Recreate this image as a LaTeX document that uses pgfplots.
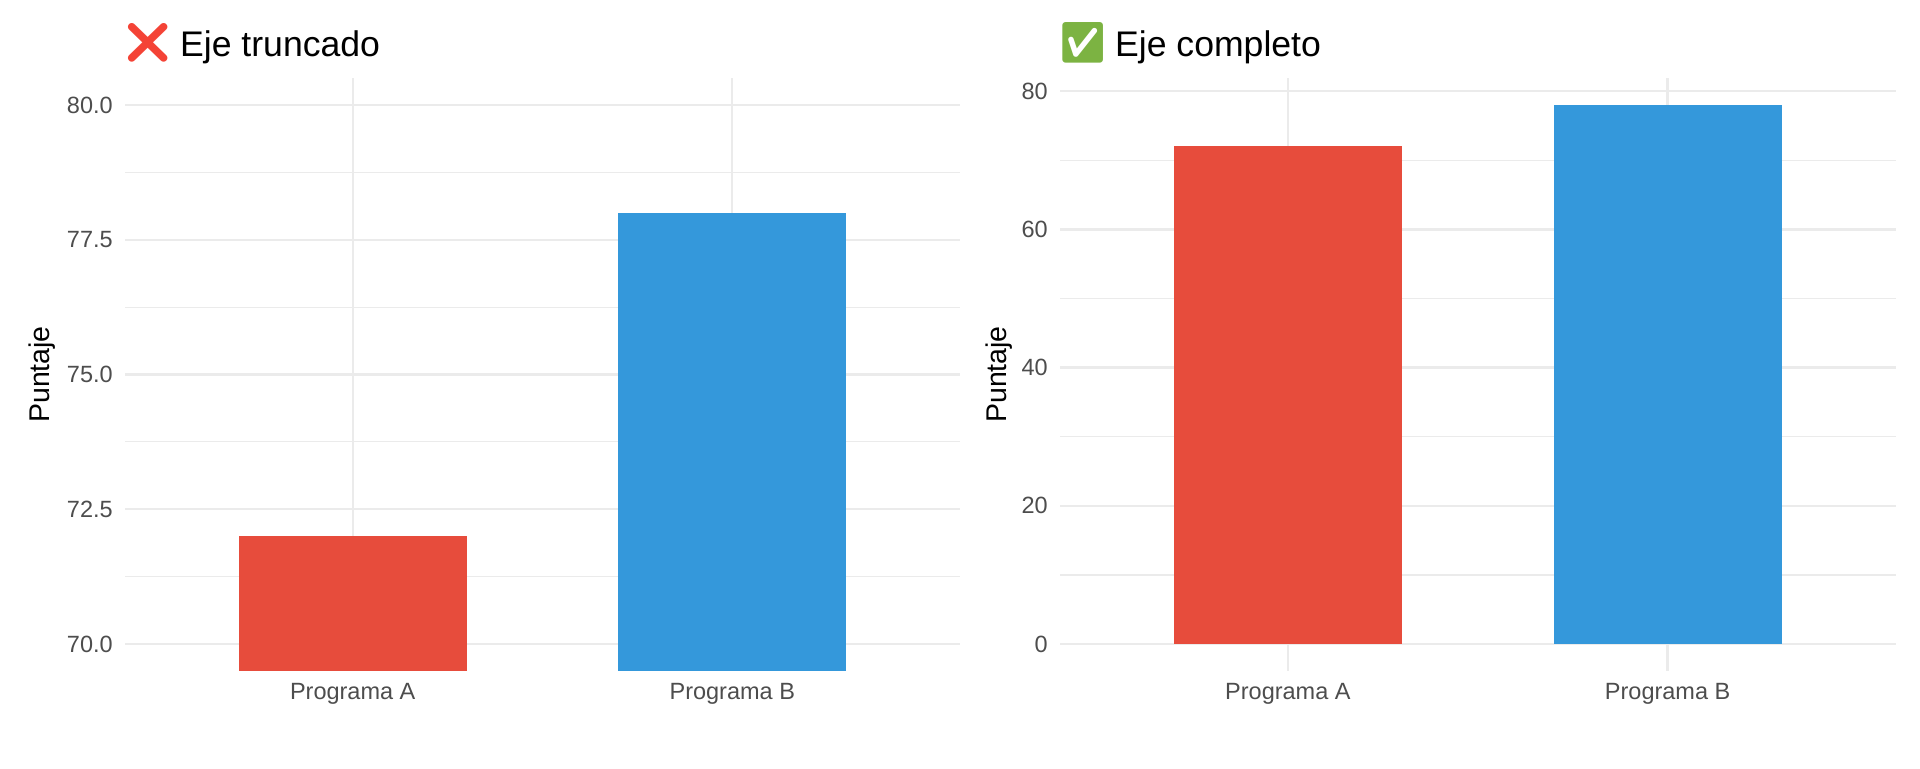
\documentclass[border=0pt]{standalone}
\usepackage{fontspec}
\setmainfont{Liberation Sans}
\newfontfamily\emojifont{Noto Emoji}
\usepackage{pgfplots}
\pgfplotsset{compat=1.18}
\definecolor{barred}{HTML}{E74C3C}
\definecolor{barblue}{HTML}{3498DB}
\definecolor{gridc}{HTML}{EBEBEB}
\definecolor{tickc}{HTML}{4D4D4D}
\definecolor{xred}{HTML}{F44336}
\definecolor{okgreen}{HTML}{7CB342}
\newcommand{\emo}[2]{{\emojifont\fontsize{20}{20}\selectfont\textcolor{#1}{#2}}}
\pgfplotsset{
  panel/.style={
    scale only axis, width=417.5pt, height=296.5pt,
    anchor=south west,
    axis line style={draw=none},
    major tick length=0pt, minor tick length=0pt,
    xmin=0.4, xmax=2.6,
    xtick={1,2}, xticklabels={Programa A, Programa B},
    ymajorgrids, yminorgrids, xmajorgrids,
    major grid style={draw=gridc, line width=1.2pt},
    minor grid style={draw=gridc, line width=0.6pt},
    ticklabel style={font=\fontsize{11.75}{14}\selectfont, text=tickc},
    yticklabel style={xshift=-2.6pt},
    xticklabel style={yshift=-2.5pt},
    /pgf/number format/assume math mode=true,
    ylabel={Puntaje},
    ylabel style={font=\fontsize{14.25}{17}\selectfont, at={(axis description cs:0,0.5)}, anchor=center},
    title style={at={(axis description cs:0,1)}, anchor=base west, inner sep=0pt, yshift=4.6pt, font=\fontsize{17.8}{20}\selectfont},
    clip=true,
  }
}
\begin{document}
\begin{tikzpicture}
\useasboundingbox (0,0) rectangle (960pt,384pt);
\begin{axis}[panel, at={(62.5pt,48.5pt)},
  ymin=69.5, ymax=80.5,
  ytick={70,72.5,75,77.5,80},
  minor ytick={71.25,73.75,76.25,78.75},
  yticklabel style={/pgf/number format/.cd, fixed, fixed zerofill, precision=1},
  ylabel style={yshift=41.5pt},
  title={\hspace*{-1.5pt}\emo{xred}{❌}\hspace{3.5pt}Eje truncado}]
\addplot[ybar, bar width=0.6, bar shift=0pt, fill=barred, draw=none] coordinates {(1,72)};
\addplot[ybar, bar width=0.6, bar shift=0pt, fill=barblue, draw=none] coordinates {(2,78)};
\end{axis}
\begin{axis}[panel, at={(530pt,48.5pt)}, width=417.75pt,
  ymin=-3.9, ymax=81.9,
  ytick={0,20,40,60,80},
  minor ytick={10,30,50,70},
  ylabel style={yshift=30.5pt},
  title={\hspace*{-1.5pt}\emo{okgreen}{✅}\hspace{3.5pt}Eje completo}]
\addplot[ybar, bar width=0.6, bar shift=0pt, fill=barred, draw=none] coordinates {(1,72)};
\addplot[ybar, bar width=0.6, bar shift=0pt, fill=barblue, draw=none] coordinates {(2,78)};
\end{axis}
\end{tikzpicture}
\end{document}
